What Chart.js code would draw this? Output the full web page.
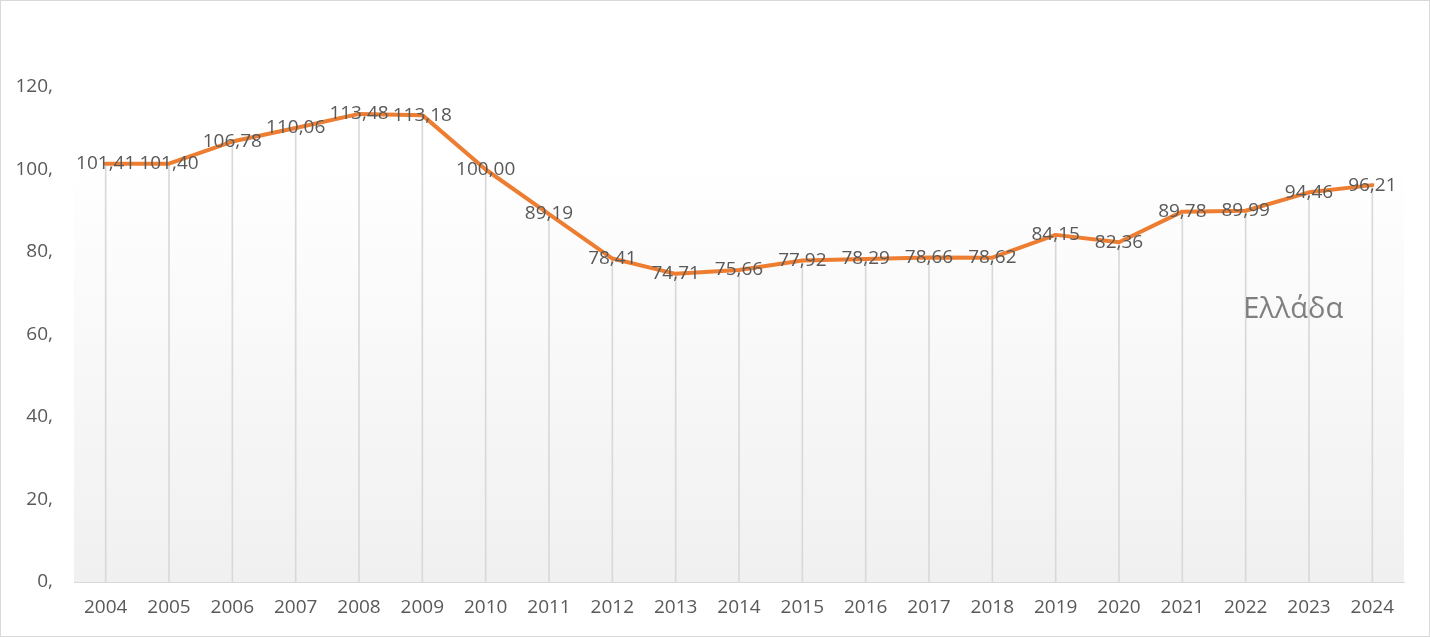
<!DOCTYPE html>
<html>
<head>
<meta charset="utf-8">
<script src="https://cdn.jsdelivr.net/npm/chart.js@4"></script>
<style>
  html, body { margin: 0; padding: 0; background: #fff; }
  #wrap { width: 1430px; height: 637px; position: relative; }
</style>
</head>
<body>
<div id="wrap"><canvas id="chart"></canvas></div>
<script>
// data
const years = ['2004', '2005', '2006', '2007', '2008', '2009', '2010', '2011', '2012', '2013', '2014',
               '2015', '2016', '2017', '2018', '2019', '2020', '2021', '2022', '2023', '2024'];
const greeceValues = [101.41, 101.40, 106.78, 110.06, 113.48, 113.18, 100.00, 89.19, 78.41, 74.71, 75.66,
                      77.92, 78.29, 78.66, 78.62, 84.15, 82.36, 89.78, 89.99, 94.46, 96.21];
const seriesName = 'Ελλάδα';
const yTicks = [0, 20, 40, 60, 80, 100, 120];

const FONT = '"Open Sans", "Noto Sans", sans-serif';
const TEXT_COLOR = '#595959';

// plot area gradient + outer border
const backgroundPlugin = {
    id: 'background',
    beforeDraw(chart) {
        const { ctx, chartArea: a } = chart;
        ctx.save();
        ctx.fillStyle = '#ffffff';
        ctx.fillRect(0, 0, chart.width, chart.height);
        const g = ctx.createLinearGradient(0, a.top, 0, a.bottom);
        g.addColorStop(0, '#ffffff');
        g.addColorStop(0.15, '#ffffff');
        g.addColorStop(1, '#f0f0f0');
        ctx.fillStyle = g;
        ctx.fillRect(a.left, a.top, a.right - a.left, a.bottom - a.top);
        ctx.restore();
    },
    afterDraw(chart) {
        const { ctx } = chart;
        ctx.save();
        ctx.strokeStyle = '#d9d9d9';
        ctx.lineWidth = 1;
        ctx.strokeRect(0.5, 0.5, chart.width - 1, chart.height - 1);
        ctx.restore();
    }
};

// value labels centred on each point, plus the series name inside the plot
const labelPlugin = {
    id: 'valueLabels',
    afterDatasetsDraw(chart) {
        const { ctx } = chart;
        const meta = chart.getDatasetMeta(0);
        ctx.save();
        ctx.font = '19px ' + FONT;
        ctx.fillStyle = TEXT_COLOR;
        ctx.textAlign = 'center';
        ctx.textBaseline = 'middle';
        meta.data.forEach((pt, i) => {
            ctx.fillText(greeceValues[i].toFixed(2).replace('.', ','), pt.x, pt.y);
        });
        const xs = chart.scales.x;
        ctx.font = '29px ' + FONT;
        ctx.fillStyle = '#7f7f7f';
        ctx.fillText(seriesName, xs.getPixelForValue(18.75), chart.scales.y.getPixelForValue(66));
        ctx.restore();
    }
};

new Chart(document.getElementById('chart'), {
    data: {
        labels: years,
        datasets: [
            {
                type: 'line',
                label: seriesName,
                data: greeceValues,
                borderColor: '#ED7D31',
                borderWidth: 4,
                borderJoinStyle: 'round',
                borderCapStyle: 'round',
                pointRadius: 0,
                tension: 0,
                order: 0
            },
            {
                // drop lines
                type: 'bar',
                label: 'drop',
                data: greeceValues,
                backgroundColor: '#d9d9d9',
                barThickness: 1,
                order: 1
            }
        ]
    },
    options: {
        responsive: true,
        maintainAspectRatio: false,
        animation: false,
        layout: { padding: { top: 87, right: 26, left: 0, bottom: 0 } },
        plugins: {
            legend: { display: false },
            tooltip: { enabled: false }
        },
        scales: {
            x: {
                offset: true,
                grid: { display: false, drawTicks: false },
                border: { display: true, color: '#d9d9d9', width: 1 },
                ticks: { color: TEXT_COLOR, font: { family: FONT, size: 19 }, padding: 14, maxRotation: 0 },
                afterFit(scale) { scale.height = 55; }
            },
            y: {
                min: 0,
                max: 120,
                grid: { display: false, drawTicks: false },
                border: { display: false },
                afterBuildTicks(scale) { scale.ticks = yTicks.map(v => ({ value: v })); },
                ticks: {
                    color: TEXT_COLOR,
                    font: { family: FONT, size: 19 },
                    padding: 21,
                    callback: v => v + ','
                },
                afterFit(scale) { scale.width = 74; }
            }
        }
    },
    plugins: [backgroundPlugin, labelPlugin]
});
</script>
</body>
</html>
